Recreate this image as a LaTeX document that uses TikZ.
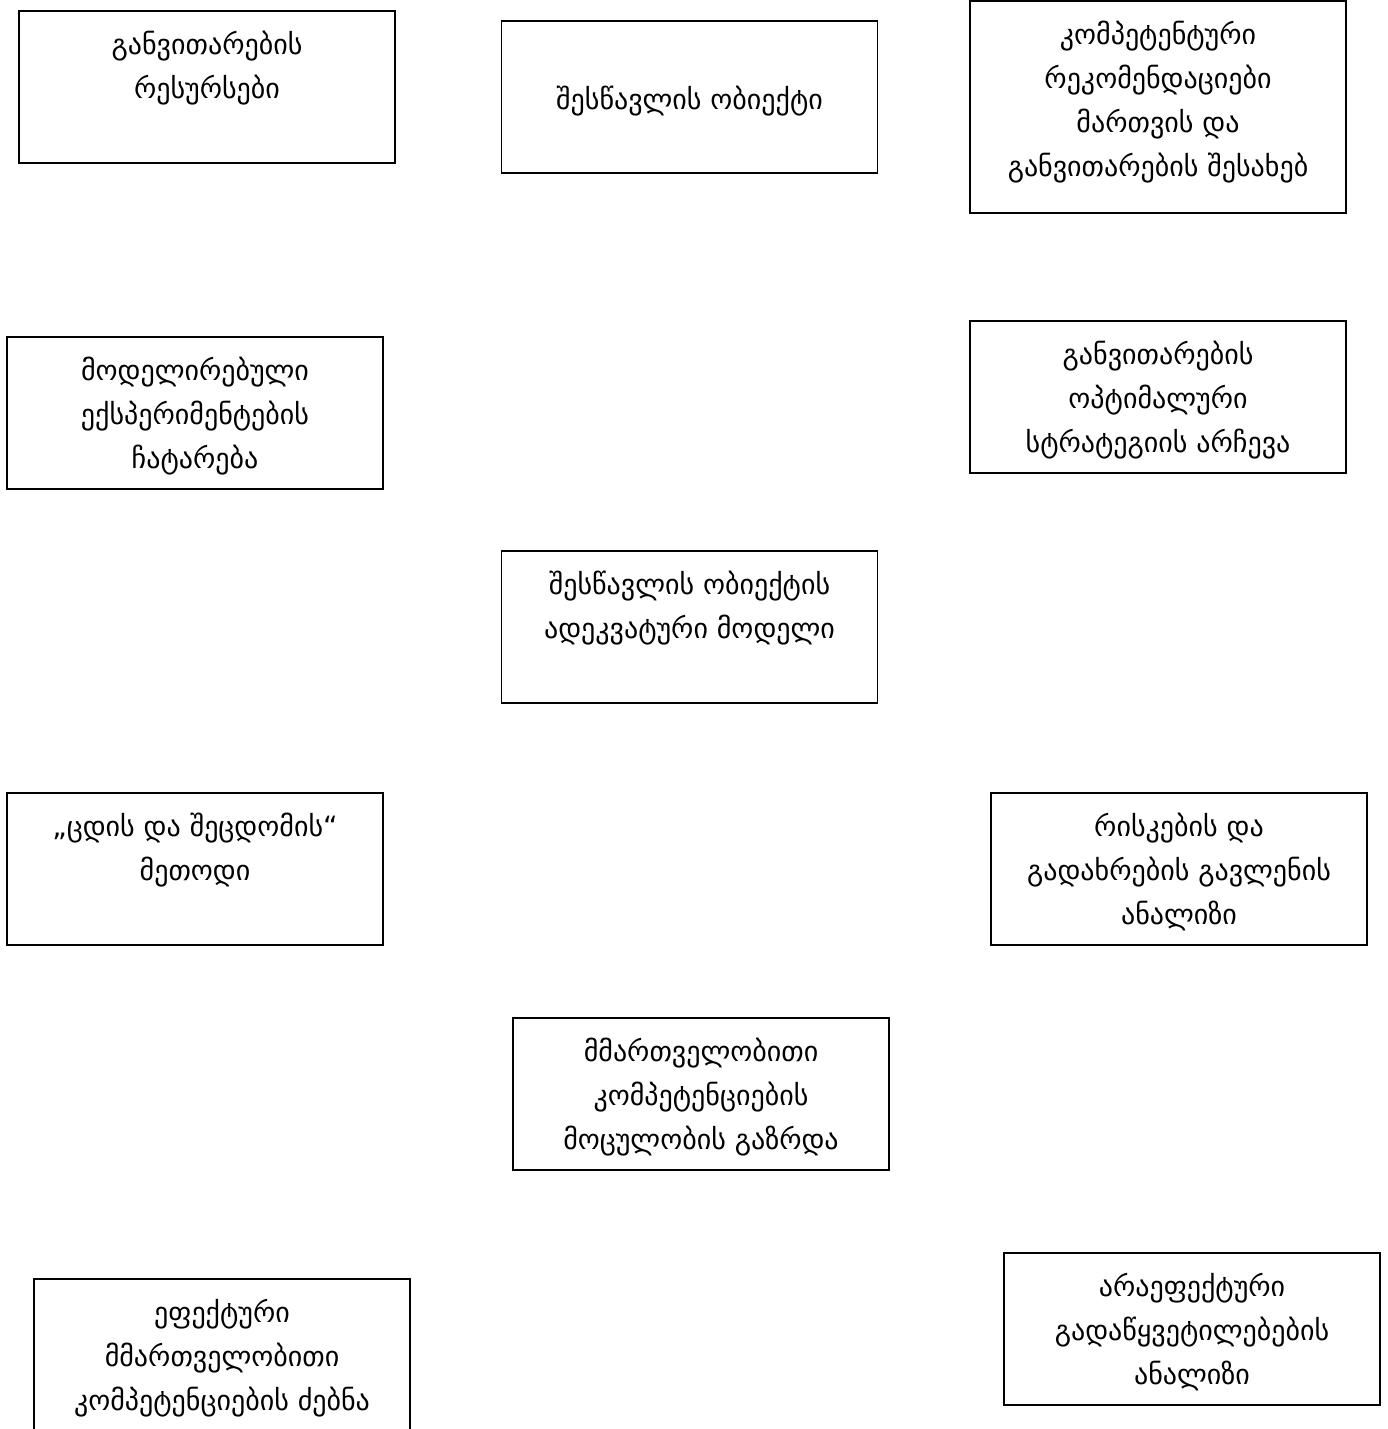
\documentclass[tikz,border=0pt]{standalone}
\usepackage{fontspec}
\newfontfamily\geo{DejaVu Sans}
\begin{document}
\begin{tikzpicture}[x=1pt,y=-1pt,
  box/.style={draw=black, line width=1.7pt, rectangle, minimum width=376pt, minimum height=152pt, inner sep=0pt},
  lbl/.style={align=center, inner sep=0pt, font=\geo\fontsize{28}{44}\selectfont, anchor=north}]
\useasboundingbox (0,0) rectangle (1388,1429);
% boxes
\node[box] (b1) at (207,87) {};
\node[box] (b2) at (689.5,97) {};
\node[box, minimum height=212pt] (b3) at (1158,107) {};
\node[box] (b4) at (195,413) {};
\node[box] (b5) at (1158,397) {};
\node[box] (b6) at (689.5,627) {};
\node[box] (b7) at (195,869) {};
\node[box] (b8) at (1179,869) {};
\node[box] (b9) at (701,1094) {};
\node[box] (b10) at (222,1355) {};
\node[box] (b11) at (1192,1329) {};
% labels
\node[lbl] (t1) at ([yshift=-21pt]b1.north) {განვითარების\\რესურსები};
\node[lbl, anchor=center] (t2) at ([yshift=-4pt]b2.center) {შესწავლის ობიექტი};
\node[lbl] (t3) at ([yshift=-21pt]b3.north) {კომპეტენტური\\რეკომენდაციები\\მართვის და\\განვითარების შესახებ};
\node[lbl] (t4) at ([yshift=-21pt]b4.north) {მოდელირებული\\ექსპერიმენტების\\ჩატარება};
\node[lbl] (t5) at ([yshift=-21pt]b5.north) {განვითარების\\ოპტიმალური\\სტრატეგიის არჩევა};
\node[lbl] (t6) at ([yshift=-21pt]b6.north) {შესწავლის ობიექტის\\ადეკვატური მოდელი};
\node[lbl] (t7) at ([yshift=-21pt]b7.north) {„ცდის და შეცდომის“\\მეთოდი};
\node[lbl] (t8) at ([yshift=-21pt]b8.north) {რისკების და\\გადახრების გავლენის\\ანალიზი};
\node[lbl] (t9) at ([yshift=-21pt]b9.north) {მმართველობითი\\კომპეტენციების\\მოცულობის გაზრდა};
\node[lbl] (t10) at ([yshift=-21pt]b10.north) {ეფექტური\\მმართველობითი\\კომპეტენციების ძებნა};
\node[lbl] (t11) at ([yshift=-21pt]b11.north) {არაეფექტური\\გადაწყვეტილებების\\ანალიზი};
\end{tikzpicture}
\end{document}
